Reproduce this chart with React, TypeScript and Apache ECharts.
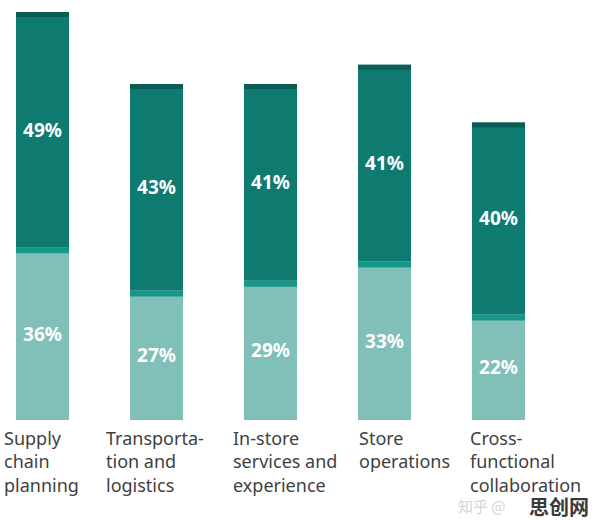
import React, { useEffect, useRef } from "react";
import * as echarts from "echarts";

const categories = [
  "Supply\nchain\nplanning",
  "Transporta-\ntion and\nlogistics",
  "In-store\nservices and\nexperience",
  "Store\noperations",
  "Cross-\nfunctional\ncollaboration",
];
const lowerValues = [36, 27, 29, 33, 22];
const upperValues = [49, 43, 41, 41, 40];

// layout-only: horizontal shift of each category caption relative to its bar's left edge
const captionShift = [-12, -24, -11, 1, -2];

const DARK = "#0f7b70";
const LIGHT = "#80c0b8";
const MID_BAND = "#17978a";
const TOP_BAND = "#0a5c54";
const BAR_W = 53;

export default function App() {
  const ref = useRef<HTMLDivElement>(null);
  useEffect(() => {
    if (!ref.current) return;
    const chart = echarts.init(ref.current, undefined, { renderer: "svg" });
    const data = categories.map((_, i) => [i, lowerValues[i], upperValues[i]]);
    chart.setOption({
      animation: false,
      grid: { left: 42.5, width: 456, top: 0, bottom: 100, containLabel: false },
      xAxis: {
        type: "category",
        data: categories,
        boundaryGap: false,
        axisLine: { show: false },
        axisTick: { show: false },
        axisLabel: { show: false },
        splitLine: { show: false },
      },
      yAxis: {
        type: "value",
        min: 0,
        max: 87.5,
        show: false,
        splitLine: { show: false },
      },
      series: [
        {
          type: "custom",
          clip: false,
          data,
          encode: { x: 0, y: [1, 2] },
          renderItem: (params: any, api: any) => {
            const i = api.value(0);
            const lo = api.value(1);
            const hi = api.value(2);
            const base = api.coord([i, 0]);
            const pLo = api.coord([i, lo]);
            const pTop = api.coord([i, lo + hi]);
            const x = base[0] - BAR_W / 2;
            const font = "bold 19px 'Noto Sans', sans-serif";
            return {
              type: "group",
              children: [
                { type: "rect", shape: { x, y: pLo[1], width: BAR_W, height: base[1] - pLo[1] }, style: { fill: LIGHT } },
                { type: "rect", shape: { x, y: pLo[1], width: BAR_W, height: 6 }, style: { fill: MID_BAND } },
                { type: "rect", shape: { x, y: pTop[1], width: BAR_W, height: pLo[1] - pTop[1] }, style: { fill: DARK } },
                { type: "rect", shape: { x, y: pTop[1], width: BAR_W, height: 5 }, style: { fill: TOP_BAND } },
                {
                  type: "text",
                  style: {
                    text: lo + "%",
                    x: base[0],
                    y: (base[1] + pLo[1]) / 2,
                    align: "center",
                    verticalAlign: "middle",
                    fill: "#ffffff",
                    font,
                  },
                },
                {
                  type: "text",
                  style: {
                    text: hi + "%",
                    x: base[0],
                    y: (pLo[1] + pTop[1]) / 2,
                    align: "center",
                    verticalAlign: "middle",
                    fill: "#ffffff",
                    font,
                  },
                },
                {
                  type: "text",
                  style: {
                    text: categories[i],
                    x: x + captionShift[i],
                    y: base[1] + 6,
                    align: "left",
                    verticalAlign: "top",
                    lineHeight: 23.5,
                    fill: "#3f3f3f",
                    font: "18px 'Noto Sans', sans-serif",
                  },
                },
              ],
            };
          },
        },
      ],
      graphic: [
        {
          type: "text",
          left: 458,
          top: 498,
          style: { text: "知乎 @", fill: "#d4d4d4", font: "15px 'Noto Sans CJK SC', sans-serif" },
        },
        {
          type: "text",
          left: 529,
          top: 496,
          style: { text: "思创网", fill: "#3a3a3a", font: "bold 20px 'Noto Sans CJK SC', sans-serif" },
        },
      ],
    });
    return () => chart.dispose();
  }, []);
  return <div ref={ref} style={{ width: 596, height: 520, position: "absolute", left: 0, top: 0 }} />;
}
